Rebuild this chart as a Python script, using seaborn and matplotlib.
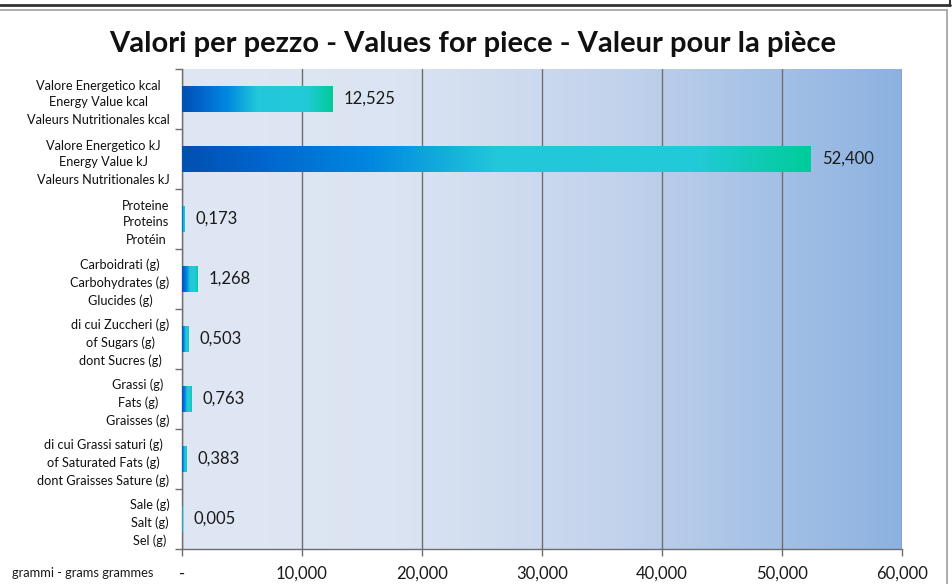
import numpy as np
import pandas as pd
import matplotlib
matplotlib.use("Agg")
import matplotlib.pyplot as plt
from matplotlib.colors import LinearSegmentedColormap
from matplotlib.lines import Line2D
import seaborn as sns

categories = [
    "Valore Energetico kcal\nEnergy Value kcal\nValeurs Nutritionales kcal",
    "Valore Energetico kJ\nEnergy Value kJ\nValeurs Nutritionales kJ",
    "Proteine\nProteins\nProtéin",
    "Carboidrati (g)\nCarbohydrates (g)\nGlucides (g)",
    "di cui Zuccheri (g)\nof Sugars (g)\ndont Sucres (g)",
    "Grassi (g)\nFats (g)\nGraisses (g)",
    "di cui Grassi saturi (g)\nof Saturated Fats (g)\ndont Graisses Sature (g)",
    "Sale (g)\nSalt (g)\nSel (g)",
]
values = [12525, 52400, 173, 1268, 503, 763, 383, 5]
value_labels = ["12,525", "52,400", "0,173", "1,268", "0,503", "0,763", "0,383", "0,005"]
xticks = [0, 10000, 20000, 30000, 40000, 50000, 60000]
xtick_labels = ["-", "10,000", "20,000", "30,000", "40,000", "50,000", "60,000"]
title = "Valori per pezzo - Values for piece - Valeur pour la pièce"
unit_label = "grammi - grams grammes"

sns.set_theme(style="white")
plt.rcParams["font.family"] = ["Lato", "DejaVu Sans"]

fig = plt.figure(figsize=(9.52, 5.84), dpi=100)
W, H = 952, 584
ax = fig.add_axes([182 / W, 1 - 549 / H, (902 - 182) / W, (549 - 69) / H])

df = pd.DataFrame({"cat": categories, "val": values})
sns.barplot(data=df, x="val", y="cat", orient="h", width=0.45, ax=ax,
            color="#0080dc", saturation=1)

ax.set_xlim(0, 60000)
ax.set_ylim(len(categories) - 0.5, -0.5)

# background gradient
bg_cmap = LinearSegmentedColormap.from_list(
    "bg", [(0, "#e0e7f4"), (0.3, "#dbe4f2"), (0.6, "#c3d3ec"), (1.0, "#8cb2e1")])
grad = np.linspace(0, 1, 256).reshape(1, -1)
ax.imshow(grad, cmap=bg_cmap, aspect="auto", extent=[0, 60000, len(categories) - 0.5, -0.5],
          zorder=0, interpolation="bicubic")

# bar gradient
bar_cmap = LinearSegmentedColormap.from_list(
    "bar", [(0, "#0050b0"), (0.12, "#0064cc"), (0.3, "#0088e0"), (0.5, "#22c8da"),
            (0.82, "#22cad8"), (1.0, "#00cc9a")])
for p in ax.patches:
    x0, y0 = p.get_x(), p.get_y()
    w, h = p.get_width(), p.get_height()
    p.set_facecolor("none")
    p.set_edgecolor("none")
    if w <= 0:
        continue
    im = ax.imshow(grad, cmap=bar_cmap, aspect="auto", extent=[x0, x0 + w, y0 + h, y0],
                   zorder=3, interpolation="bicubic")
    im.set_clip_path(p)
    p.set_zorder(3)

for i, (v, lab) in enumerate(zip(values, value_labels)):
    ax.annotate(lab, (v, i), xytext=(8, 0), textcoords="offset points",
                va="center", ha="left", fontsize=12, color="#1a1a1a", zorder=5)

ax.set_xticks(xticks)
ax.set_xticklabels(xtick_labels, fontsize=12, color="#1a1a1a")
ax.xaxis.grid(True, color="#6e6e6e", linewidth=1.0, zorder=1)
ax.set_axisbelow(False)
for gl in ax.get_xgridlines():
    gl.set_zorder(1)
ax.tick_params(axis="x", which="major", bottom=True, length=5, color="#6e6e6e", width=1, pad=7)

ax.set_yticks(range(len(categories)))
ax.set_yticklabels(categories, fontsize=9.2, color="#111111", linespacing=1.5,
                   multialignment="center")
ax.tick_params(axis="y", which="major", left=False, length=0, pad=9)
ax.set_yticks(np.arange(-0.5, len(categories), 1), minor=True)
ax.tick_params(axis="y", which="minor", left=True, length=5, color="#6e6e6e", width=1)
ax.set_xlabel("")
ax.set_ylabel("")

for s in ["top", "right"]:
    ax.spines[s].set_visible(False)
for s in ["left", "bottom"]:
    ax.spines[s].set_color("#6e6e6e")
    ax.spines[s].set_linewidth(1.0)

fig.text(473 / W, 1 - 44 / H, title, ha="center", va="center", fontsize=21,
         fontweight="bold", color="#111111")
fig.text(83 / W, 1 - 573 / H, unit_label, ha="center", va="center", fontsize=9.3,
         color="#1a1a1a")

# frame lines
fig.add_artist(Line2D([0, 950 / W], [1 - 4.5 / H, 1 - 4.5 / H], color="#333333", lw=2.0,
                      transform=fig.transFigure))
fig.add_artist(Line2D([950 / W, 950 / W], [1 - 0 / H, 1 - 6 / H], color="#333333", lw=1.5,
                      transform=fig.transFigure))
fig.add_artist(Line2D([0, 947 / W], [1 - 9.5 / H, 1 - 9.5 / H], color="#a0a0a0", lw=1.2,
                      transform=fig.transFigure))
fig.add_artist(Line2D([947 / W, 947 / W], [1 - 9.5 / H, 0], color="#a0a0a0", lw=1.2,
                      transform=fig.transFigure))

fig.savefig("out.png", dpi=100)
